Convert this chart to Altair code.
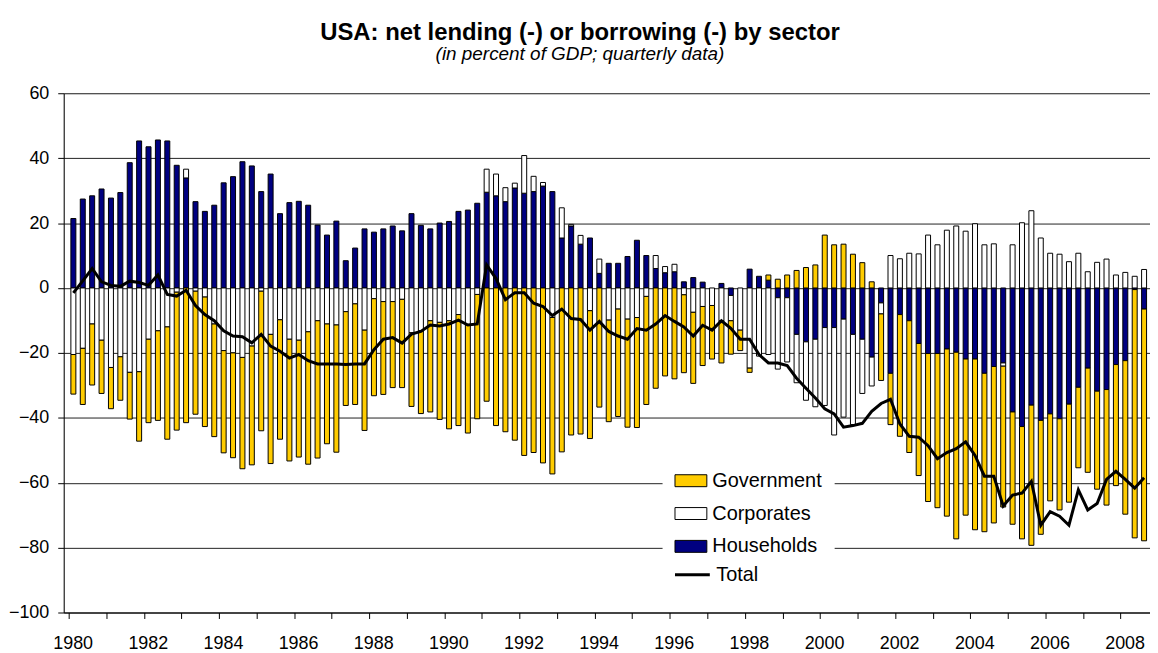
import altair as alt
import pandas as pd

# ---- data (quarterly, 1980Q1 .. 2008Q3) ----
first_year = 1980
households = [
    21.4, 27.4, 28.4, 30.5, 27.7, 29.4, 38.6, 45.3, 43.5, 45.6, 45.3, 37.8, 33.9, 26.6,
    23.6, 25.5, 32.4, 34.3, 38.9, 37.6, 29.7, 35.1, 22.9, 26.3, 26.7, 25.5, 19.4, 16.3, 20.6,
    8.4, 12.3, 18.2, 17.2, 18.2, 19.1, 17.6, 22.9, 19.3, 18.2, 20.0, 20.5, 23.6, 24.0, 26.1,
    29.5, 28.4, 26.6, 30.8, 29.2, 29.7, 31.4, 29.7, 15.4, 19.1, 13.5, 15.4, 4.5, 7.6,
    7.6, 9.7, 14.7, 10.0, 6.0, 4.7, 5.0, 1.9, 3.2, 1.8, 0.0, 1.4, -2.3, 0.0, 5.8,
    3.6, 2.4, -3.0, -3.0, -14.3, -16.6, -15.8, -12.2, -12.2, -9.6, -14.3, -15.8, -21.3, -4.6, -26.3,
    -8.2, -10.1, -17.1, -20.2, -20.2, -18.8, -19.8, -21.9, -21.9, -26.3, -24.2, -23.1, -38.2, -42.7,
    -36.1, -40.8, -38.8, -40.3, -35.8, -30.6, -24.7, -31.8, -31.3, -23.6, -22.4, -0.5, -6.5,
]
corporates = [
    -20.5, -18.6, -11.1, -16.1, -24.5, -21.2, -26.0, -25.8, -15.8, -13.2, -12.0, -1.3, 2.7, -1.0,
    -2.8, -11.1, -19.3, -20.0, -21.4, -17.9, -1.0, -14.3, -9.8, -15.8, -16.1, -13.5, -10.1, -11.1, -11.4,
    -7.3, -4.9, -13.0, -3.3, -4.2, -4.2, -3.5, -13.8, -13.2, -10.1, -10.6, -10.1, -8.2, -11.4, -2.0,
    7.1, 6.7, 4.3, 1.5, 11.6, 4.7, 1.1, -9.1, 9.3, 0.5, 2.7, -7.0, 4.4, -9.9,
    -6.5, -9.6, -9.1, -2.6, 4.0, 1.9, 2.3, -2.1, -7.5, -5.7, -5.4, -10.1, -7.8, -13.0, -24.7,
    -21.0, -20.5, -22.0, -19.8, -14.9, -18.0, -20.8, -24.0, -33.1, -30.2, -27.8, -16.7, -8.9, -3.4, 10.0,
    9.0, 10.7, 10.5, 16.3, 13.3, 17.8, 19.1, 17.5, 19.8, 13.3, 13.6, -1.0, 13.3, 20.1,
    23.8, 15.4, 10.7, 10.4, 8.1, 10.7, 5.0, 7.9, 8.9, 4.0, 4.8, 3.6, 5.7,
]
government = [
    -12.2, -17.3, -18.8, -16.4, -12.7, -13.4, -14.4, -21.4, -25.7, -27.6, -34.6, -42.5, -41.5, -37.9,
    -39.9, -34.7, -31.5, -32.3, -34.3, -36.6, -43.0, -39.8, -36.8, -37.5, -36.0, -40.8, -42.3, -36.9, -39.2,
    -28.9, -31.0, -30.9, -29.9, -28.6, -26.5, -27.2, -22.7, -25.5, -28.1, -29.9, -33.3, -34.2, -33.3, -38.3,
    -34.9, -42.4, -44.3, -46.9, -51.6, -50.7, -53.9, -48.2, -50.5, -45.3, -45.0, -39.4, -36.7, -31.3,
    -33.1, -33.3, -33.9, -33.3, -30.9, -27.1, -28.0, -24.0, -21.9, -18.2, -16.5, -13.0, -10.3, -6.3, -1.3,
    0.0, 1.6, 2.7, 4.0, 5.4, 6.3, 7.1, 16.3, 13.3, 13.5, 10.4, 7.8, 1.9, -20.5, -15.8,
    -37.5, -40.6, -40.7, -45.6, -47.5, -51.5, -57.5, -48.1, -52.6, -48.8, -48.2, -43.4, -34.6, -34.6,
    -43.2, -35.1, -26.8, -28.1, -30.2, -24.8, -32.1, -30.2, -35.6, -37.3, -47.3, -76.5, -71.4,
]
total = [
    -1.5, 2.2, 6.0, 1.9, 0.8, 0.5, 2.1, 1.7, 0.8, 4.0, -2.0, -2.5, -0.7, -5.4,
    -8.2, -10.1, -13.2, -14.8, -15.0, -16.9, -14.3, -17.9, -19.5, -21.6, -20.5, -22.4, -23.4, -23.4, -23.4,
    -23.6, -23.4, -23.4, -19.0, -15.8, -15.3, -17.0, -14.2, -13.4, -11.4, -11.7, -11.1, -9.9, -11.4, -11.1,
    7.1, 2.9, -3.6, -1.5, -1.5, -4.7, -5.7, -8.5, -6.5, -9.4, -9.7, -13.0, -10.3, -13.4,
    -14.8, -15.8, -12.5, -13.0, -11.1, -8.5, -10.3, -12.0, -14.8, -11.5, -13.0, -10.1, -12.4, -15.8, -15.8,
    -20.5, -23.1, -23.1, -23.9, -27.8, -30.9, -33.9, -37.2, -38.8, -42.9, -42.4, -41.7, -38.0, -35.6, -34.3,
    -41.9, -45.7, -46.0, -48.6, -52.6, -50.7, -49.5, -47.4, -51.6, -58.0, -58.0, -67.2, -63.8, -63.2,
    -59.6, -73.1, -68.9, -70.3, -73.1, -62.2, -68.4, -66.4, -59.0, -56.5, -59.0, -61.7, -58.5,
]

legend_sectors = ["Government", "Corporates", "Households"]
sector_colors = ["#FFCC00", "#FFFFFF", "#000080"]
stack_rank = {"Households": 0, "Corporates": 1, "Government": 2}
tick_years = list(range(1980, 2009))
y_ticks = list(range(-100, 61, 20))

# ---- tables ----
n = len(total)
t = [first_year + (i + 0.5) / 4 for i in range(n)]
rows = []
for name, vals in [("Households", households), ("Corporates", corporates), ("Government", government)]:
    for ti, v in zip(t, vals):
        rows.append({"t": ti, "sector": name, "value": v, "ord": stack_rank[name]})
bars_df = pd.DataFrame(rows)
line_df = pd.DataFrame({"t": t, "value": total, "series": ["Total"] * n})

FONT = "Liberation Sans"

xscale = alt.Scale(domain=[1980, 2008.65], nice=False, zero=False)
yscale = alt.Scale(domain=[-100, 60], nice=False)

xaxis = alt.Axis(
    values=tick_years, format="d",
    labelExpr="datum.value % 2 === 0 ? datum.label : ''",
    labelFlush=False, labelOverlap=False, labelOffset=4, labelPadding=16,
    tickSize=6, tickColor="black", domainColor="black", labelColor="black",
    labelFontSize=18, labelFont=FONT, grid=False, title=None,
)
yaxis = alt.Axis(
    values=y_ticks, format="d", grid=True, gridColor="#222222", gridWidth=1,
    tickSize=6, tickColor="black", domainColor="black", labelColor="black",
    labelPadding=9, labelFontSize=18, labelFont=FONT, title=None,
)

bars = alt.Chart(bars_df).transform_filter("datum.value != 0").mark_bar(
    size=5, stroke="black", strokeWidth=1
).encode(
    x=alt.X("t:Q", scale=xscale, axis=xaxis),
    y=alt.Y("value:Q", stack="zero", scale=yscale, axis=yaxis),
    fill=alt.Fill(
        "sector:N",
        scale=alt.Scale(domain=legend_sectors, range=sector_colors),
        legend=alt.Legend(
            title=None, orient="none", legendX=602, legendY=361,
            symbolType="M-1,-0.375H1V0.375H-1Z", symbolSize=1024,
            symbolStrokeColor="black", symbolStrokeWidth=1, symbolOpacity=1,
            labelFontSize=20, labelFont=FONT, labelColor="black", labelOffset=5,
            rowPadding=6, padding=12, fillColor="white",
        ),
    ),
    order=alt.Order("ord:Q", sort="ascending"),
)

line = alt.Chart(line_df).mark_line(strokeWidth=3).encode(
    x=alt.X("t:Q", scale=xscale, axis=xaxis),
    y=alt.Y("value:Q", scale=yscale, axis=yaxis),
    stroke=alt.Stroke(
        "series:N",
        scale=alt.Scale(domain=["Total"], range=["black"]),
        legend=alt.Legend(
            title=None, orient="none", legendX=613, legendY=465,
            symbolType="stroke", symbolSize=1225, symbolStrokeWidth=3,
            labelFontSize=20, labelFont=FONT, labelColor="black", labelOffset=5,
            padding=0, fillColor="white",
        ),
    ),
)

chart = alt.layer(bars, line).properties(
    width=1092, height=522,
    padding={"left": 56, "top": 84, "right": 0, "bottom": 38},
    autosize=alt.AutoSizeParams(type="none"),
    title=alt.Title(
        text="USA: net lending (-) or borrowing (-) by sector",
        subtitle="(in percent of GDP; quarterly data)",
        font=FONT, fontSize=24, fontWeight="bold", color="black",
        subtitleFont=FONT, subtitleFontSize=19, subtitleFontStyle="italic",
        subtitleColor="black", subtitlePadding=1,
        anchor="middle", frame="group", dx=-27, offset=20,
    ),
).configure_view(strokeOpacity=0).configure(background="white")

chart.save("out.html", embed_options={"renderer": "svg", "actions": False})
